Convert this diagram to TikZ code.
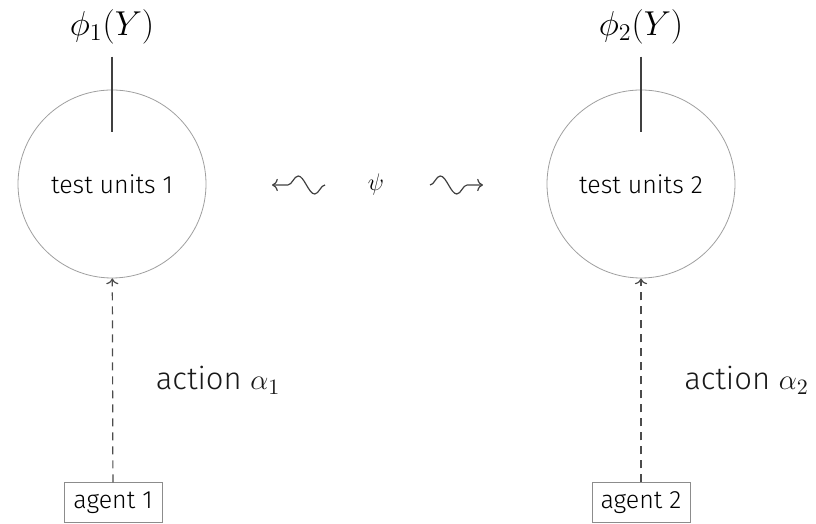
\documentclass[tikz,border=0pt]{standalone}
\usepackage{fontspec}
\setmainfont{Fira Sans}[UprightFont=* Light]
\usepackage{tikz}
\usetikzlibrary{arrows.meta,decorations.pathmorphing,positioning}

\begin{document}
\begin{tikzpicture}[x=0.5pt, y=0.5pt,
    unit/.style={circle, draw=gray!75, line width=0.4pt, minimum size=94pt, inner sep=0pt, font=\fontsize{12.5}{15}\selectfont},
    agentbox/.style={draw=gray!90, line width=0.5pt, minimum width=49pt, minimum height=20pt, inner sep=2pt, font=\fontsize{12.5}{15}\selectfont},
    philabel/.style={font=\LARGE, inner sep=6pt},
    actlabel/.style={text=black!90, font=\fontsize{15.5}{18}\selectfont},
    act/.style={->, black!70, line width=0.6pt, dash pattern=on 4pt off 3pt},
    wavy/.style={->, black!75, line width=0.6pt, decorate,
      decoration={snake, amplitude=4.5pt, segment length=16.5pt, post length=2pt}}]
      \useasboundingbox (0,0) rectangle (816,524);
      % test units
      \node[unit] (t1) at (112,340) {test units 1};
      \node[unit] (t2) at (641,340) {test units 2};
      % outcomes
      \node[philabel] (phi1) at (112,497) {$\phi_1(Y)$};
      \node[philabel] (phi2) at (641,497) {$\phi_2(Y)$};
      \draw[black!75, line width=0.6pt] (phi1.south) -- ([yshift=26pt]t1.center);
      \draw[black!75, line width=0.6pt] (phi2.south) -- ([yshift=26pt]t2.center);
      % interference
      \node[font=\large] (psi) at (376,339) {$\psi$};
      \coordinate (w1a) at (325,339);
      \coordinate (w1b) at (272,339);
      \coordinate (w2a) at (430,339);
      \coordinate (w2b) at (483,339);
      \draw[wavy] (w1a) -- (w1b);
      \draw[wavy] (w2a) -- (w2b);
      % agents
      \node[agentbox] (a1) at (113,21) {agent 1};
      \node[agentbox] (a2) at (641,21) {agent 2};
      \draw[act] (a1) -- (t1) node[midway, right=18pt, actlabel] {action $\alpha_1$};
      \draw[act] (a2) -- (t2) node[midway, right=18pt, actlabel] {action $\alpha_2$};
\end{tikzpicture}
\end{document}
